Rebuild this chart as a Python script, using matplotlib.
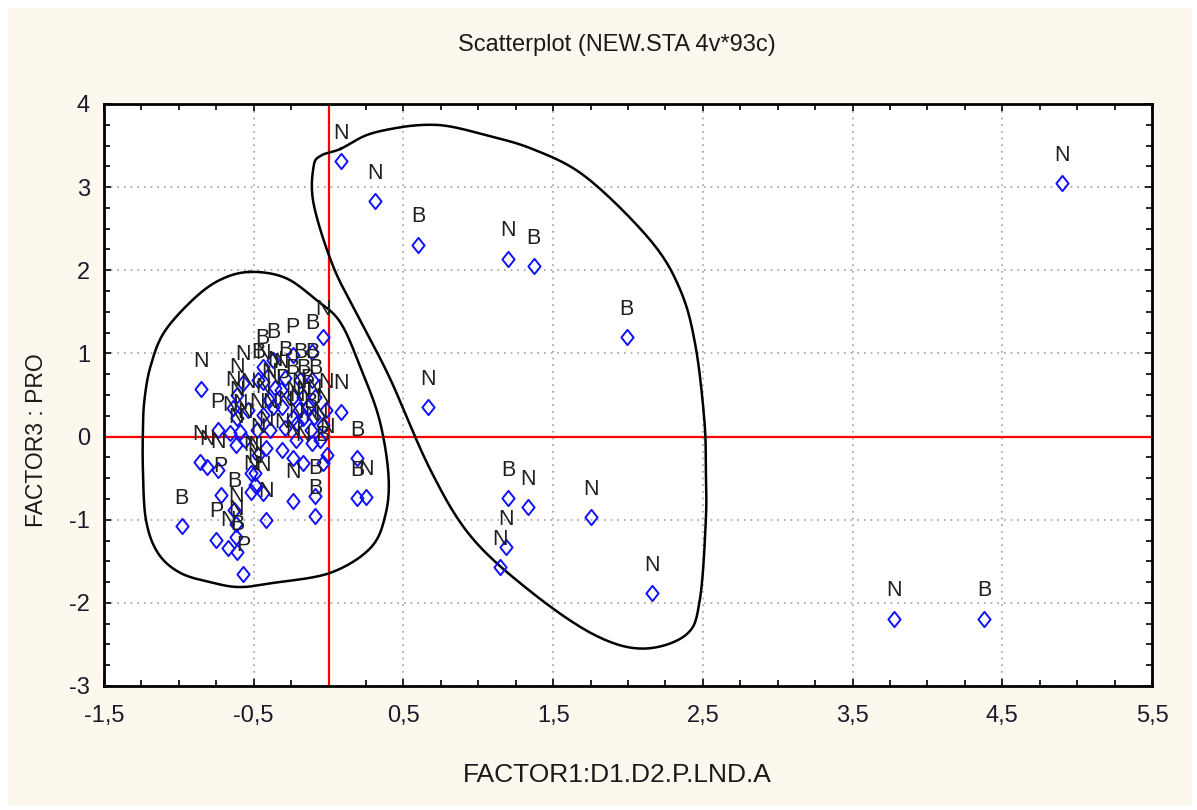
import numpy as np
import matplotlib
matplotlib.use("Agg")
import matplotlib.pyplot as plt
from matplotlib.patches import Rectangle
from matplotlib.path import Path
from matplotlib.ticker import MultipleLocator, FuncFormatter

FONT = ['Liberation Sans', 'DejaVu Sans']

# ---- data: FACTOR1 (x), FACTOR3 (y), group labels ----
x_out = [0.085, 0.31, 0.60, 1.20, 1.37, 1.99, 0.665, 4.90, 1.20, 1.33, 1.75, 1.185, 1.145, 2.16, 3.78, 4.38]
y_out = [3.31, 2.83, 2.31, 2.14, 2.05, 1.20, 0.355, 3.05, -0.74, -0.85, -0.97, -1.33, -1.57, -1.88, -2.19, -2.19]
lab_out = ['N', 'N', 'B', 'N', 'B', 'B', 'N', 'N', 'B', 'N', 'N', 'N', 'N', 'N', 'N', 'B']

x_clu = [-0.85, -0.57, -0.61, -0.64, -0.61, -0.59, -0.74, -0.66, -0.86, -0.81,
         -0.74, -0.98, -0.75, -0.67, -0.61, -0.62, -0.63, -0.57, -0.52, -0.49,
         -0.52, -0.49, -0.42, -0.31, -0.24, -0.17, -0.11, -0.04, -0.09, -0.09,
         -0.24, -0.42, -0.44, 0.19, 0.19, 0.25, -0.01, -0.04, -0.11, -0.24,
         -0.37, -0.44, -0.44, -0.32, -0.40, -0.37, -0.31, -0.24, -0.17, -0.09,
         -0.14, -0.20, -0.24, -0.17, -0.10, 0.08, -0.47, -0.44, -0.48, -0.29,
         -0.21, -0.04, -0.06, -0.12, -0.39, -0.56, -0.62, -0.47, -0.72, -0.62,
         -0.29, -0.19, -0.36, -0.02, -0.11, -0.22, -0.54]
y_clu = [0.57, 0.65, 0.50, 0.34, 0.22, 0.06, 0.08, 0.04, -0.31, -0.37,
         -0.40, -1.08, -1.24, -1.34, -1.39, -1.21, -0.88, -1.65, -0.67, -0.58,
         -0.44, -0.44, -0.14, -0.16, -0.26, -0.32, -0.08, -0.32, -0.72, -0.96,
         -0.77, -1.00, -0.68, -0.26, -0.74, -0.73, -0.22, 1.20, 1.02, 0.98,
         0.92, 0.84, 0.66, 0.56, 0.44, 0.36, 0.36, 0.48, 0.48, 0.48,
         0.36, 0.32, 0.22, 0.22, 0.24, 0.30, 0.68, 0.26, 0.08, 0.10,
         0.16, 0.14, -0.04, 0.08, 0.08, -0.04, -0.10, -0.22, -0.70, -1.05,
         0.70, 0.68, 0.58, 0.32, 0.68, -0.04, 0.32]
lab_clu = ['N', 'N', 'N', 'N', 'N', 'N', 'P', 'N', 'N', 'N',
           'N', 'B', 'P', 'N', 'B', 'N', 'B', 'P', 'N', 'N',
           'N', 'N', 'N', 'N', 'N', 'N', 'N', 'B', 'B', 'B',
           'N', 'N', 'N', 'B', 'B', 'N', 'N', 'N', 'B', 'P',
           'B', 'B', 'N', 'N', 'N', 'N', 'P', 'B', 'B', 'B',
           'B', 'N', 'N', 'N', 'N', 'N', 'B', 'N', 'N', 'N',
           'N', 'N', 'N', 'B', 'N', 'N', 'N', 'N', 'P', 'N',
           'B', 'B', 'N', 'N', 'B', 'N', 'N']

x_all = x_out + x_clu
y_all = y_out + y_clu
lab_all = lab_out + lab_clu

# ---- freehand group outlines (data coordinates) ----
left_x = [-0.53, -0.29, -0.08, 0.08, 0.22, 0.34, 0.40, 0.38, 0.28, 0.01, -0.37, -0.59, -0.77, -0.99, -1.14, -1.22, -1.24, -1.24, -1.23, -1.19, -1.10, -0.91, -0.73]
left_y = [1.98, 1.91, 1.64, 1.37, 0.80, 0.20, -0.46, -0.94, -1.34, -1.64, -1.76, -1.81, -1.76, -1.64, -1.40, -1.00, -0.40, 0.08, 0.44, 0.84, 1.25, 1.64, 1.88]
right_x = [0.08, 0.26, 0.48, 0.66, 0.81, 1.02, 1.36, 1.72, 2.15, 2.35, 2.45, 2.51, 2.52, 2.52, 2.48, 2.39, 2.10, 1.77, 1.34, 0.95, 0.68, 0.41, 0.21, 0.03, -0.10, -0.10, -0.05]
right_y = [3.46, 3.63, 3.72, 3.75, 3.73, 3.64, 3.46, 3.12, 2.36, 1.76, 1.10, 0.20, -0.40, -1.00, -1.96, -2.38, -2.55, -2.38, -1.85, -1.20, -0.40, 0.70, 1.40, 2.05, 2.80, 3.25, 3.38]

fig = plt.figure(figsize=(11.97, 8.10), dpi=100, facecolor='white')
fig.patches.append(Rectangle((8 / 1197, 5 / 810), 1184 / 1197, 797 / 810,
                             transform=fig.transFigure, facecolor='#FDF8EE',
                             edgecolor='none', zorder=-10))

ax = fig.add_axes([104 / 1197, 1 - 686 / 810, 1048 / 1197, 582 / 810])
ax.set_facecolor('white')
ax.set_xlim(-1.5, 5.5)
ax.set_ylim(-3, 4)

ax.xaxis.set_major_locator(MultipleLocator(1.0, offset=0.5))
ax.xaxis.set_minor_locator(MultipleLocator(0.25))
ax.yaxis.set_major_locator(MultipleLocator(1.0))
ax.yaxis.set_minor_locator(MultipleLocator(0.25))
ax.xaxis.set_major_formatter(FuncFormatter(lambda v, p: ('%.1f' % v).replace('.', ',')))
ax.yaxis.set_major_formatter(FuncFormatter(lambda v, p: '%d' % round(v)))
ax.tick_params(which='both', direction='in', top=True, right=True, color='black')
ax.tick_params(which='major', length=5, width=1.2)
ax.tick_params(which='minor', length=4, width=1.2)
ax.tick_params(axis='x', pad=14)
ax.tick_params(axis='y', pad=10)
for lbl in ax.get_xticklabels() + ax.get_yticklabels():
    lbl.set_fontfamily(FONT)
    lbl.set_fontsize(17)
    lbl.set_color('#1a1a2a')

ax.grid(True, which='major', linestyle=(0, (1, 3)), color='#a0a0a0', linewidth=1.2)
for s in ax.spines.values():
    s.set_linewidth(2)
    s.set_color('black')

ax.axvline(0, color='#ff0000', lw=1.6, zorder=2)
ax.axhline(0, color='#ff0000', lw=1.6, zorder=2)

def smooth_closed(px, py, n=400):
    px = np.asarray(px); py = np.asarray(py)
    m = len(px)
    t = np.linspace(0, m, n, endpoint=False)
    out_x, out_y = [], []
    for tt in t:
        i = int(np.floor(tt)); u = tt - i
        p0, p1, p2, p3 = [(i - 1) % m, i % m, (i + 1) % m, (i + 2) % m]
        def cr(a):
            return 0.5 * ((2 * a[p1]) + (-a[p0] + a[p2]) * u +
                          (2 * a[p0] - 5 * a[p1] + 4 * a[p2] - a[p3]) * u ** 2 +
                          (-a[p0] + 3 * a[p1] - 3 * a[p2] + a[p3]) * u ** 3)
        out_x.append(cr(px)); out_y.append(cr(py))
    out_x.append(out_x[0]); out_y.append(out_y[0])
    return out_x, out_y

lx, ly = smooth_closed(left_x, left_y)
ax.plot(lx, ly, color='black', lw=1.8, zorder=3)
rx, ry = smooth_closed(right_x, right_y)
ax.plot(rx, ry, color='black', lw=1.8, zorder=3)

diamond = Path([(0, 1), (0.8, 0), (0, -1), (-0.8, 0), (0, 1)],
               [Path.MOVETO, Path.LINETO, Path.LINETO, Path.LINETO, Path.CLOSEPOLY])
ax.plot(x_all, y_all, linestyle='none', marker=diamond, markersize=11,
        markerfacecolor='none', markeredgecolor='#1010ff', markeredgewidth=1.4, zorder=4)
for xv, yv, t in zip(x_all, y_all, lab_all):
    ax.annotate(t, (xv, yv), xytext=(0, 20), textcoords='offset points',
                ha='center', va='center', fontsize=15.5, family=FONT,
                color='#202020', zorder=5)

fig.text(617 / 1197, 1 - 45 / 810, 'Scatterplot (NEW.STA 4v*93c)', ha='center', va='center',
         fontsize=17, family=FONT, color='#1a1a1a')
fig.text(617 / 1197, 1 - 775 / 810, 'FACTOR1:D1.D2.P.LND.A', ha='center', va='center',
         fontsize=19, family=FONT, color='#1a1a1a')
fig.text(37 / 1197, 1 - 440 / 810, 'FACTOR3 : PRO', ha='center', va='center',
         rotation=90, fontsize=16.5, family=FONT, color='#1a1a1a')

fig.savefig('out.png', dpi=100, facecolor='white')
